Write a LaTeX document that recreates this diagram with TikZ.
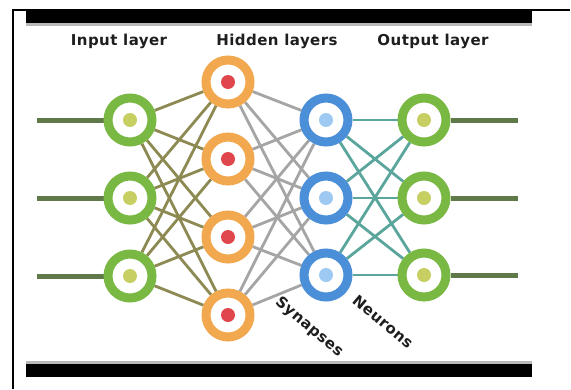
\documentclass[tikz,border=0pt]{standalone}
\usepackage{fontspec}
\newfontfamily\lblfont[LetterSpace=3]{DejaVu Sans}
\usetikzlibrary{backgrounds}
\definecolor{ringgreen}{HTML}{78B843}
\definecolor{ringorange}{HTML}{F2A84E}
\definecolor{ringblue}{HTML}{4A8FD8}
\definecolor{dotgreen}{HTML}{C7CF63}
\definecolor{dotred}{HTML}{E0474C}
\definecolor{dotblue}{HTML}{9EC9F2}
\definecolor{stubcol}{HTML}{5F7A48}
\definecolor{olivecol}{HTML}{8C8A52}
\definecolor{greycol}{HTML}{A5A5A5}
\definecolor{tealcol}{HTML}{5AA69C}
\definecolor{txtcol}{HTML}{1E1E1E}
\tikzset{
  neuron/.style={circle, minimum size=44pt, inner sep=0pt, line width=9pt, fill=white, draw=#1},
  stubline/.style={stubcol, line width=5pt},
  linkA/.style={olivecol, line width=2.8pt},
  linkB/.style={greycol, line width=2.8pt},
  linkC/.style={tealcol, line width=2.8pt},
  title/.style={font=\lblfont\bfseries\fontsize{15}{17}\selectfont, text=txtcol, inner sep=0pt},
  frameline/.style={black, line width=2pt},
}
\begin{document}
\begin{tikzpicture}[x=1pt, y=-1pt]
\useasboundingbox (0,0) rectangle (571,389);
% frame
\draw[frameline] (13,10) -- (13,389);
\draw[black, line width=1.5pt] (12,10) -- (570,10);
\fill[black] (26,10) rectangle (532,23);
\fill[gray!55] (26,23) rectangle (532,25.5);
\fill[gray!55] (26,361) rectangle (532,363.5);
\fill[black] (26,363.5) rectangle (532,377);
% titles
\node[title] (tin) at (119,41) {Input layer};
\node[title] (thid) at (277,41) {Hidden layers};
\node[title] (tout) at (433,41) {Output layer};
% neurons
\foreach \n/\y in {1/120,2/198,3/276} {
  \node[neuron=ringgreen] (i\n) at (130,\y) {};
  \fill[dotgreen] (i\n.center) circle (7pt);
}
\foreach \n/\y in {1/82,2/159,3/237,4/315} {
  \node[neuron=ringorange] (h\n) at (228,\y) {};
  \fill[dotred] (h\n.center) circle (7pt);
}
\foreach \n/\y in {1/120,2/198,3/275} {
  \node[neuron=ringblue] (b\n) at (326,\y) {};
  \fill[dotblue] (b\n.center) circle (7pt);
}
\foreach \n/\y in {1/120,2/198,3/275} {
  \node[neuron=ringgreen] (o\n) at (424,\y) {};
  \fill[dotgreen] (o\n.center) circle (7pt);
}
% stubs
\foreach \n/\y in {1/120,2/198,3/276} {
  \coordinate (sl\n) at (37,\y);
}
\foreach \n/\y in {1/120,2/198,3/275} {
  \coordinate (sr\n) at (518,\y);
}
\begin{scope}[on background layer]
\fill[white] (0,0) rectangle (571,389);
\foreach \n in {1,2,3} {
  \draw[stubline] (sl\n) -- (i\n);
  \draw[stubline] (o\n) -- (sr\n);
}
\foreach \a in {1,2,3} {
  \foreach \b in {1,2,3,4} {
    \draw[linkA] (i\a) -- (h\b);
    \draw[linkB] (h\b) -- (b\a);
  }
  \foreach \b in {1,2,3} {
    \draw[linkC] (b\a) -- (o\b);
  }
}
\end{scope}
% rotated labels
\node[title, rotate=-40] (syn) at (309,327) {Synapses};
\node[title, rotate=-40] (neu) at (383,322) {Neurons};
\end{tikzpicture}
\end{document}
